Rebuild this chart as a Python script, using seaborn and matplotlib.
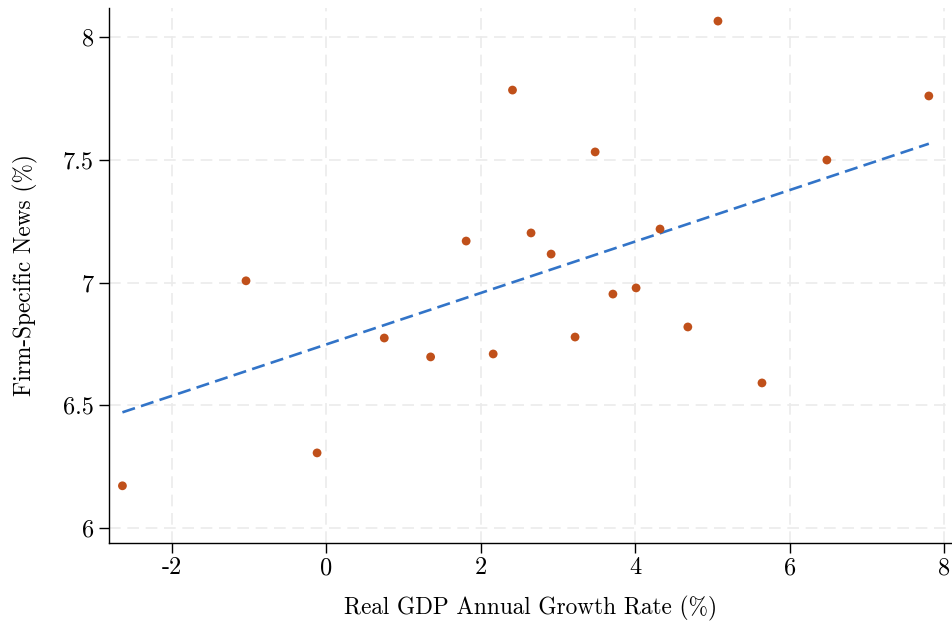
import numpy as np
import pandas as pd
import matplotlib
matplotlib.use("Agg")
import matplotlib.pyplot as plt
import seaborn as sns

# GDP growth vs firm-specific news
gdp_growth = [-2.64, -1.04, -0.12, 0.75, 1.35, 1.81, 2.16, 2.41, 2.65, 2.91,
              3.22, 3.48, 3.71, 4.01, 4.32, 4.68, 5.07, 5.64, 6.48, 7.80]
firm_news = [6.172, 7.007, 6.306, 6.774, 6.697, 7.169, 6.709, 7.784, 7.202, 7.116,
             6.778, 7.532, 6.953, 6.978, 7.218, 6.819, 8.065, 6.591, 7.499, 7.760]
# fitted line shown in the chart (its coefficients)
fit_intercept = 6.748
fit_slope = 0.1048
x_ticks = [-2, 0, 2, 4, 6, 8]
y_ticks = [6, 6.5, 7, 7.5, 8]
y_ticklabels = ["6", "6.5", "7", "7.5", "8"]

df = pd.DataFrame({"gdp": gdp_growth, "news": firm_news})
fit_x = np.array([df["gdp"].min(), df["gdp"].max()])
fit = pd.DataFrame({"gdp": fit_x, "news": fit_intercept + fit_slope * fit_x})

sns.set_style("white")
plt.rcParams["font.family"] = ["cmr10", "DejaVu Serif"]
plt.rcParams["mathtext.fontset"] = "cm"
plt.rcParams["axes.unicode_minus"] = False
plt.rcParams["axes.formatter.use_mathtext"] = True
plt.rcParams["text.color"] = "black"
plt.rcParams["axes.labelcolor"] = "black"
plt.rcParams["xtick.color"] = "black"
plt.rcParams["ytick.color"] = "black"

fig, ax = plt.subplots(figsize=(9.52, 6.21), dpi=100)
fig.subplots_adjust(left=0.114, right=1.0, bottom=0.126, top=0.987)

sns.lineplot(data=fit, x="gdp", y="news", ax=ax, color="#3274c8", lw=1.9,
             linestyle=(0, (5, 2.4)), zorder=2)
sns.scatterplot(data=df, x="gdp", y="news", ax=ax, s=40, color="#c0501a",
                edgecolor="none", zorder=3)

ax.set_xlim(-2.82, 8.10)
ax.set_ylim(5.94, 8.118)
ax.set_xticks(x_ticks)
ax.set_xticklabels([str(t) for t in x_ticks])
ax.set_yticks(y_ticks)
ax.set_yticklabels(y_ticklabels)

ax.grid(True, color="#ebebeb", linestyle=(0, (7, 4)), linewidth=1.2, zorder=0)
ax.set_axisbelow(True)

sns.despine(ax=ax)
for side in ["left", "bottom"]:
    ax.spines[side].set_color("black")
    ax.spines[side].set_linewidth(1.0)
ax.tick_params(axis="both", direction="out", length=7, width=1, color="black",
               labelsize=17.5, pad=3.5, bottom=True, left=True)

ax.set_xlabel("Real GDP Annual Growth Rate (%)", fontsize=16.8, labelpad=12)
ax.set_ylabel("Firm-Specific News (%)", fontsize=16.8, labelpad=18)

fig.savefig("out.png", dpi=100)
